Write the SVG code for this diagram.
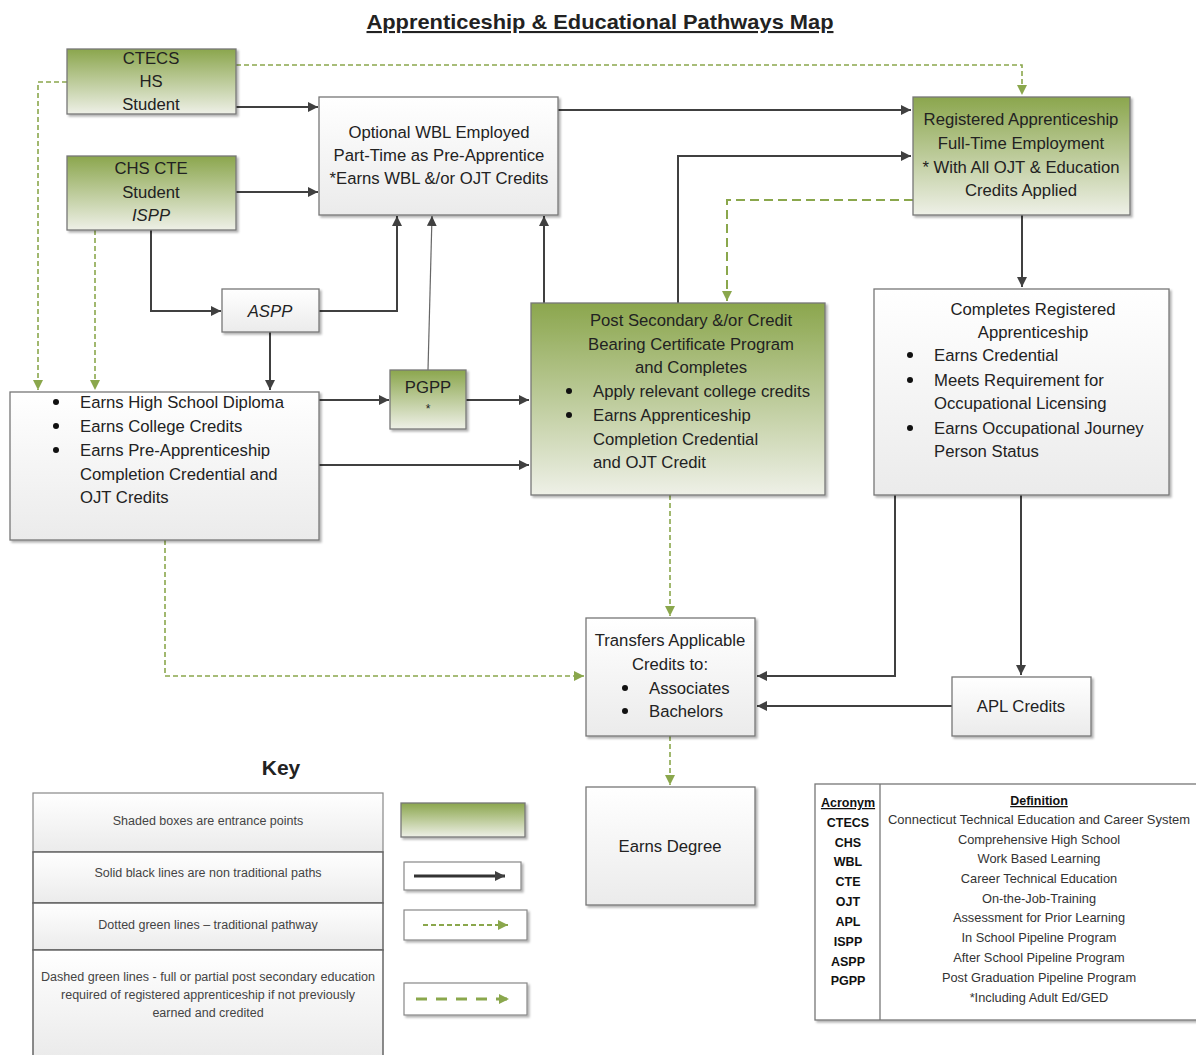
<svg xmlns="http://www.w3.org/2000/svg" width="1196" height="1055" viewBox="0 0 1196 1055">
<defs>
<linearGradient id="gGreen" x1="0" y1="0" x2="0" y2="1">
<stop offset="0" stop-color="#8ba64d"/>
<stop offset="1" stop-color="#eef0e7"/>
</linearGradient>
<linearGradient id="gWhite" x1="0" y1="0" x2="0" y2="1">
<stop offset="0" stop-color="#ffffff"/>
<stop offset="1" stop-color="#ebebeb"/>
</linearGradient>
<filter id="sh" x="-10%" y="-10%" width="130%" height="130%">
<feDropShadow dx="2" dy="2" stdDeviation="1.2" flood-color="#000" flood-opacity="0.3"/>
</filter>
<marker id="ah" viewBox="0 0 10 10" refX="10" refY="5" markerWidth="10" markerHeight="10" markerUnits="userSpaceOnUse" orient="auto">
<path d="M0,0 L10,5 L0,10 z" fill="#404040"/>
</marker>
<marker id="ag" viewBox="0 0 10 10" refX="10" refY="5" markerWidth="10" markerHeight="10" markerUnits="userSpaceOnUse" orient="auto">
<path d="M0,0 L10,5 L0,10 z" fill="#8aa74c"/>
</marker>
</defs>
<style>
.t{font-family:"Liberation Sans",Arial,sans-serif;fill:#222;}
.c{text-anchor:middle;}
.b16{font-size:16.7px;}
.box{stroke:#777;stroke-width:1.3;filter:url(#sh);}
.gr{fill:url(#gGreen);}
.wh{fill:url(#gWhite);}
.sol{fill:none;stroke:#404040;stroke-width:2;marker-end:url(#ah);}
.thin{fill:none;stroke:#666;stroke-width:1.2;marker-end:url(#ah);}
.dot{fill:none;stroke:#8aa74c;stroke-width:1.6;stroke-dasharray:5 3;marker-end:url(#ag);}
.dash{fill:none;stroke:#8aa74c;stroke-width:2;stroke-dasharray:9 5;marker-end:url(#ag);}
.key{font-size:12.5px;fill:#444;}
.acr{font-size:12.5px;font-weight:bold;fill:#111;}
.def{font-size:12.8px;fill:#333;}
</style>
<rect width="1196" height="1055" fill="#ffffff"/>

<text class="t c" x="600" y="29" font-size="21" font-weight="bold" text-decoration="underline" textLength="467" lengthAdjust="spacingAndGlyphs" fill="#111">Apprenticeship &amp; Educational Pathways Map</text>

<g id="connectors">
<path class="sol" d="M236,107 H318"/>
<path class="sol" d="M236,192 H318"/>
<path class="dot" d="M236,65 H1022 V95"/>
<path class="dot" d="M67,82 H38 V390"/>
<path class="dot" d="M95,230 V390"/>
<path class="sol" d="M151,230 V311 H221"/>
<path class="sol" d="M319,311 H397 V216"/>
<path class="sol" d="M270,332 V390"/>
<path class="thin" d="M428,370 L432,216"/>
<path class="sol" d="M544,303 V216"/>
<path class="sol" d="M558,110 H911"/>
<path class="sol" d="M678,303 V156 H911"/>
<path class="dash" d="M913,200 H727 V301"/>
<path class="sol" d="M1022,215 V287"/>
<path class="sol" d="M319,400 H389"/>
<path class="sol" d="M466,400 H529"/>
<path class="sol" d="M319,465 H529"/>
<path class="dot" d="M670,495 V616"/>
<path class="dot" d="M165,540 V676 H584"/>
<path class="sol" d="M895,495 V676 H757"/>
<path class="sol" d="M1021,495 V675"/>
<path class="sol" d="M952,706 H757"/>
<path class="dot" d="M670,736 V785"/>
</g>

<g id="ctecs">
<rect class="box gr" x="67" y="49" width="169" height="65"/>
<text class="t c b16" x="151" y="64">CTECS</text>
<text class="t c b16" x="151" y="87">HS</text>
<text class="t c b16" x="151" y="110">Student</text>
</g>

<g id="chs">
<rect class="box gr" x="67" y="156" width="169" height="74"/>
<text class="t c b16" x="151" y="174">CHS CTE</text>
<text class="t c b16" x="151" y="198">Student</text>
<text class="t c b16" x="151" y="221" font-style="italic">ISPP</text>
</g>

<g id="wbl">
<rect class="box wh" x="319" y="97" width="239" height="118"/>
<text class="t c b16" x="439" y="138">Optional WBL Employed</text>
<text class="t c b16" x="439" y="161">Part-Time as Pre-Apprentice</text>
<text class="t c b16" x="439" y="184">*Earns WBL &amp;/or OJT Credits</text>
</g>

<g id="regapp">
<rect class="box gr" x="913" y="97" width="217" height="118"/>
<text class="t c b16" x="1021" y="125">Registered Apprenticeship</text>
<text class="t c b16" x="1021" y="149">Full-Time Employment</text>
<text class="t c b16" x="1021" y="173">* With All OJT &amp; Education</text>
<text class="t c b16" x="1021" y="196">Credits Applied</text>
</g>

<g id="aspp">
<rect class="box wh" x="222" y="289" width="97" height="43"/>
<text class="t c b16" x="270" y="317" font-style="italic">ASPP</text>
</g>

<g id="pgpp">
<rect class="box gr" x="390" y="370" width="76" height="59"/>
<text class="t c b16" x="428" y="393">PGPP</text>
<text class="t c" x="428" y="413" font-size="12">*</text>
</g>

<g id="hsbox">
<rect class="box wh" x="10" y="392" width="309" height="148"/>
<circle cx="56" cy="402" r="3" fill="#111"/>
<circle cx="56" cy="426" r="3" fill="#111"/>
<circle cx="56" cy="450" r="3" fill="#111"/>
<text class="t b16" x="80" y="408">Earns High School Diploma</text>
<text class="t b16" x="80" y="432">Earns College Credits</text>
<text class="t b16" x="80" y="456">Earns Pre-Apprenticeship</text>
<text class="t b16" x="80" y="480">Completion Credential and</text>
<text class="t b16" x="80" y="503">OJT Credits</text>
</g>

<g id="postsec">
<rect class="box gr" x="531" y="303" width="294" height="192"/>
<text class="t c b16" x="691" y="326">Post Secondary &amp;/or Credit</text>
<text class="t c b16" x="691" y="350">Bearing Certificate Program</text>
<text class="t c b16" x="691" y="373">and Completes</text>
<circle cx="569" cy="391" r="3" fill="#111"/>
<circle cx="569" cy="415" r="3" fill="#111"/>
<text class="t b16" x="593" y="397">Apply relevant college credits</text>
<text class="t b16" x="593" y="421">Earns Apprenticeship</text>
<text class="t b16" x="593" y="445">Completion Credential</text>
<text class="t b16" x="593" y="468">and OJT Credit</text>
</g>

<g id="completes">
<rect class="box wh" x="874" y="289" width="295" height="206"/>
<text class="t c b16" x="1033" y="315">Completes Registered</text>
<text class="t c b16" x="1033" y="338">Apprenticeship</text>
<circle cx="910" cy="355" r="3" fill="#111"/>
<circle cx="910" cy="380" r="3" fill="#111"/>
<circle cx="910" cy="428" r="3" fill="#111"/>
<text class="t b16" x="934" y="361">Earns Credential</text>
<text class="t b16" x="934" y="386">Meets Requirement for</text>
<text class="t b16" x="934" y="409">Occupational Licensing</text>
<text class="t b16" x="934" y="434">Earns Occupational Journey</text>
<text class="t b16" x="934" y="457">Person Status</text>
</g>

<g id="transfers">
<rect class="box wh" x="586" y="618" width="169" height="118"/>
<text class="t c b16" x="670" y="646">Transfers Applicable</text>
<text class="t c b16" x="670" y="670">Credits to:</text>
<circle cx="625" cy="688" r="3" fill="#111"/>
<circle cx="625" cy="711" r="3" fill="#111"/>
<text class="t b16" x="649" y="694">Associates</text>
<text class="t b16" x="649" y="717">Bachelors</text>
</g>

<g id="apl">
<rect class="box wh" x="952" y="677" width="139" height="59"/>
<text class="t c b16" x="1021" y="712">APL Credits</text>
</g>

<g id="degree">
<rect class="box wh" x="586" y="787" width="169" height="118"/>
<text class="t c b16" x="670" y="852">Earns Degree</text>
</g>

<g id="key">
<text class="t c" x="281" y="775" font-size="21" font-weight="bold" fill="#111">Key</text>
<rect class="wh" x="33" y="793" width="350" height="59" stroke="#888" stroke-width="1.2"/>
<rect class="wh" x="33" y="852" width="350" height="51" stroke="#666" stroke-width="1.5"/>
<rect class="wh" x="33" y="903" width="350" height="47" stroke="#666" stroke-width="1.5"/>
<path d="M33,1056 V950 H383 V1056" class="wh" stroke="#666" stroke-width="1.5"/>
<text class="t c key" x="208" y="825">Shaded boxes are entrance points</text>
<text class="t c key" x="208" y="877">Solid black lines are non traditional paths</text>
<text class="t c key" x="208" y="929">Dotted green lines – traditional pathway</text>
<text class="t c key" x="208" y="981" textLength="334" lengthAdjust="spacingAndGlyphs">Dashed green lines - full or partial post secondary education</text>
<text class="t c key" x="208" y="999">required of registered apprenticeship if not previously</text>
<text class="t c key" x="208" y="1017">earned and credited</text>
<rect class="box gr" x="401" y="803" width="124" height="34"/>
<rect x="404" y="862" width="117" height="28" fill="#fff" stroke="#888" stroke-width="1.2" filter="url(#sh)"/>
<path d="M414,876 H505" fill="none" stroke="#333" stroke-width="3" marker-end="url(#ah)"/>
<rect x="404" y="910" width="123" height="30" fill="#fff" stroke="#888" stroke-width="1.2" filter="url(#sh)"/>
<path d="M423,925 H508" fill="none" stroke="#8aa74c" stroke-width="2" stroke-dasharray="5 3" marker-end="url(#ag)"/>
<rect x="404" y="983" width="123" height="32" fill="#fff" stroke="#888" stroke-width="1.2" filter="url(#sh)"/>
<path d="M416,999 H509" fill="none" stroke="#8aa74c" stroke-width="3" stroke-dasharray="11 9" marker-end="url(#ag)"/>
</g>

<g id="acronyms">
<rect x="815" y="784" width="385" height="236" fill="#fff" stroke="#777" stroke-width="1.3" filter="url(#sh)"/>
<path d="M880,784 V1020" stroke="#777" stroke-width="1.3"/>
<text class="t c acr" x="848" y="807" text-decoration="underline">Acronym</text>
<text class="t c acr" x="848" y="827">CTECS</text>
<text class="t c acr" x="848" y="847">CHS</text>
<text class="t c acr" x="848" y="866">WBL</text>
<text class="t c acr" x="848" y="886">CTE</text>
<text class="t c acr" x="848" y="906">OJT</text>
<text class="t c acr" x="848" y="926">APL</text>
<text class="t c acr" x="848" y="946">ISPP</text>
<text class="t c acr" x="848" y="966">ASPP</text>
<text class="t c acr" x="848" y="985">PGPP</text>
<text class="t c acr" x="1039" y="805" text-decoration="underline">Definition</text>
<text class="t c def" x="1039" y="824" textLength="302" lengthAdjust="spacingAndGlyphs">Connecticut Technical Education and Career System</text>
<text class="t c def" x="1039" y="844">Comprehensive High School</text>
<text class="t c def" x="1039" y="863">Work Based Learning</text>
<text class="t c def" x="1039" y="883">Career Technical Education</text>
<text class="t c def" x="1039" y="903">On-the-Job-Training</text>
<text class="t c def" x="1039" y="922">Assessment for Prior Learning</text>
<text class="t c def" x="1039" y="942">In School Pipeline Program</text>
<text class="t c def" x="1039" y="962">After School Pipeline Program</text>
<text class="t c def" x="1039" y="982">Post Graduation Pipeline Program</text>
<text class="t c def" x="1039" y="1002">*Including Adult Ed/GED</text>
</g>
</svg>
